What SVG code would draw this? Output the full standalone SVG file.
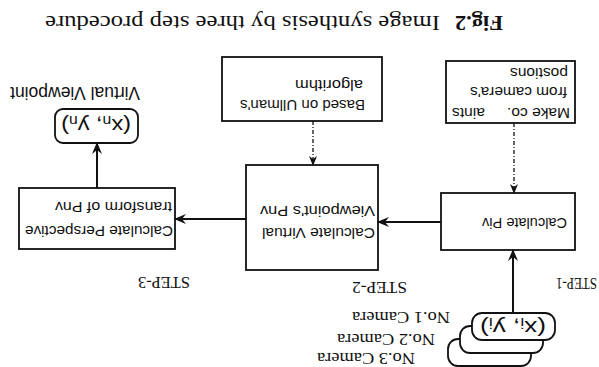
<svg xmlns="http://www.w3.org/2000/svg" width="599" height="367" viewBox="0 0 599 367">
<defs>
<style>
.box{fill:#fff;stroke:#111;stroke-width:1.8}
.rbox{fill:#fff;stroke:#111;stroke-width:1.8}
.sans{font-family:"Liberation Sans",Arial,sans-serif;font-size:15px;fill:#111}
.serif{font-family:"Liberation Serif","Times New Roman",serif;font-size:17px;fill:#111}
.big{font-size:18px}
.xy{font-size:21px}
.title{font-size:20px}
.sub{font-size:14px}
.solid{stroke:#111;stroke-width:2;fill:none}
.dash{stroke:#111;stroke-width:1.3;fill:none;stroke-dasharray:4 2 1 2}
</style>
<marker id="arr" viewBox="0 0 12 10" refX="11" refY="5" markerUnits="userSpaceOnUse" markerWidth="12" markerHeight="10" orient="auto">
<path d="M0,0 L12,5 L0,10 L4,5 z" fill="#111"/>
</marker>
<marker id="darr" viewBox="0 0 10 8" refX="9" refY="4" markerUnits="userSpaceOnUse" markerWidth="10" markerHeight="8" orient="auto">
<path d="M0,0 L10,4 L0,8 L3,4 z" fill="#111"/>
</marker>
</defs>
<rect width="599" height="367" fill="#fff"/>
<g transform="rotate(180 299.5 183.5)">
<g id="title">
<text class="serif title" x="96" y="351" font-weight="bold" textLength="48" lengthAdjust="spacingAndGlyphs">Fig.2</text>
<text class="serif title" x="159" y="351" textLength="395" lengthAdjust="spacingAndGlyphs">Image synthesis by three step procedure</text>
</g>
<g id="cameras">
<rect class="rbox" x="68" y="1" width="83" height="27" rx="10"/>
<rect class="rbox" x="56" y="14" width="83" height="27" rx="10"/>
<rect class="rbox" x="44" y="27" width="83" height="27" rx="10"/>
<text class="sans xy" x="53" y="46" textLength="66" lengthAdjust="spacingAndGlyphs">(x<tspan class="sub" dy="3">i</tspan><tspan dy="-3">, y</tspan><tspan class="sub" dy="3">i</tspan><tspan dy="-3">)</tspan></text>
<text class="serif" x="149" y="55" textLength="98" lengthAdjust="spacingAndGlyphs">No.1 Camera</text>
<text class="serif" x="164" y="33" textLength="98" lengthAdjust="spacingAndGlyphs">No.2 Camera</text>
<text class="serif" x="184" y="14" textLength="98" lengthAdjust="spacingAndGlyphs">No.3 Camera</text>
</g>
<g id="steps">
<text class="serif" x="2" y="89" textLength="41" lengthAdjust="spacingAndGlyphs">STEP-1</text>
<text class="serif" x="192" y="85" textLength="55" lengthAdjust="spacingAndGlyphs">STEP-2</text>
<text class="serif" x="409" y="90" textLength="52" lengthAdjust="spacingAndGlyphs">STEP-3</text>
</g>
<g id="constraints">
<rect class="box" x="24" y="244" width="129" height="62"/>
<text class="sans" x="29" y="259" textLength="63" lengthAdjust="spacingAndGlyphs">Make co.</text>
<text class="sans" x="114" y="259" textLength="33" lengthAdjust="spacingAndGlyphs">aints</text>
<text class="sans" x="32" y="280" textLength="97" lengthAdjust="spacingAndGlyphs">from camera's</text>
<text class="sans" x="31" y="299" textLength="58" lengthAdjust="spacingAndGlyphs">postions</text>
</g>
<g id="ullman">
<rect class="box" x="217" y="246" width="160" height="64"/>
<text class="sans" x="234" y="267" textLength="125" lengthAdjust="spacingAndGlyphs">Based on Ullman's</text>
<text class="sans" x="236" y="287" textLength="68" lengthAdjust="spacingAndGlyphs">algorithm</text>
</g>
<g id="piv">
<rect class="box" x="24" y="117" width="134" height="57"/>
<text class="sans" x="32" y="149" textLength="85" lengthAdjust="spacingAndGlyphs">Calculate Piv</text>
</g>
<g id="virtual">
<rect class="box" x="221" y="97" width="132" height="105"/>
<text class="sans" x="224" y="139" textLength="113" lengthAdjust="spacingAndGlyphs">Calculate Virtual</text>
<text class="sans" x="224" y="161" textLength="115" lengthAdjust="spacingAndGlyphs">Viewpoint's Pnv</text>
</g>
<g id="perspective">
<rect class="box" x="424" y="118" width="156" height="61"/>
<text class="sans" x="426" y="141" textLength="148" lengthAdjust="spacingAndGlyphs">Calculate Perspective</text>
<text class="sans" x="427" y="165" textLength="117" lengthAdjust="spacingAndGlyphs">transform of Pnv</text>
</g>
<g id="output">
<rect class="rbox" x="461" y="224" width="83" height="34" rx="8"/>
<text class="sans xy" x="468" y="248" textLength="70" lengthAdjust="spacingAndGlyphs">(x<tspan class="sub" dy="3">n</tspan><tspan dy="-3">, y</tspan><tspan class="sub" dy="3">n</tspan><tspan dy="-3">)</tspan></text>
<text class="sans big" x="459" y="280" textLength="130" lengthAdjust="spacingAndGlyphs">Virtual Viewpoint</text>
</g>
<g id="connectors">
<path class="solid" d="M86,54 L86,117" marker-end="url(#arr)"/>
<path class="dash" d="M85,244 L85,174" marker-end="url(#darr)"/>
<path class="solid" d="M158,145 L221,145" marker-end="url(#arr)"/>
<path class="dash" d="M286,246 L286,202" marker-end="url(#darr)"/>
<path class="solid" d="M353,148 L424,148" marker-end="url(#arr)"/>
<path class="solid" d="M502,179 L502,224" marker-end="url(#arr)"/>
</g>
</g>
</svg>
